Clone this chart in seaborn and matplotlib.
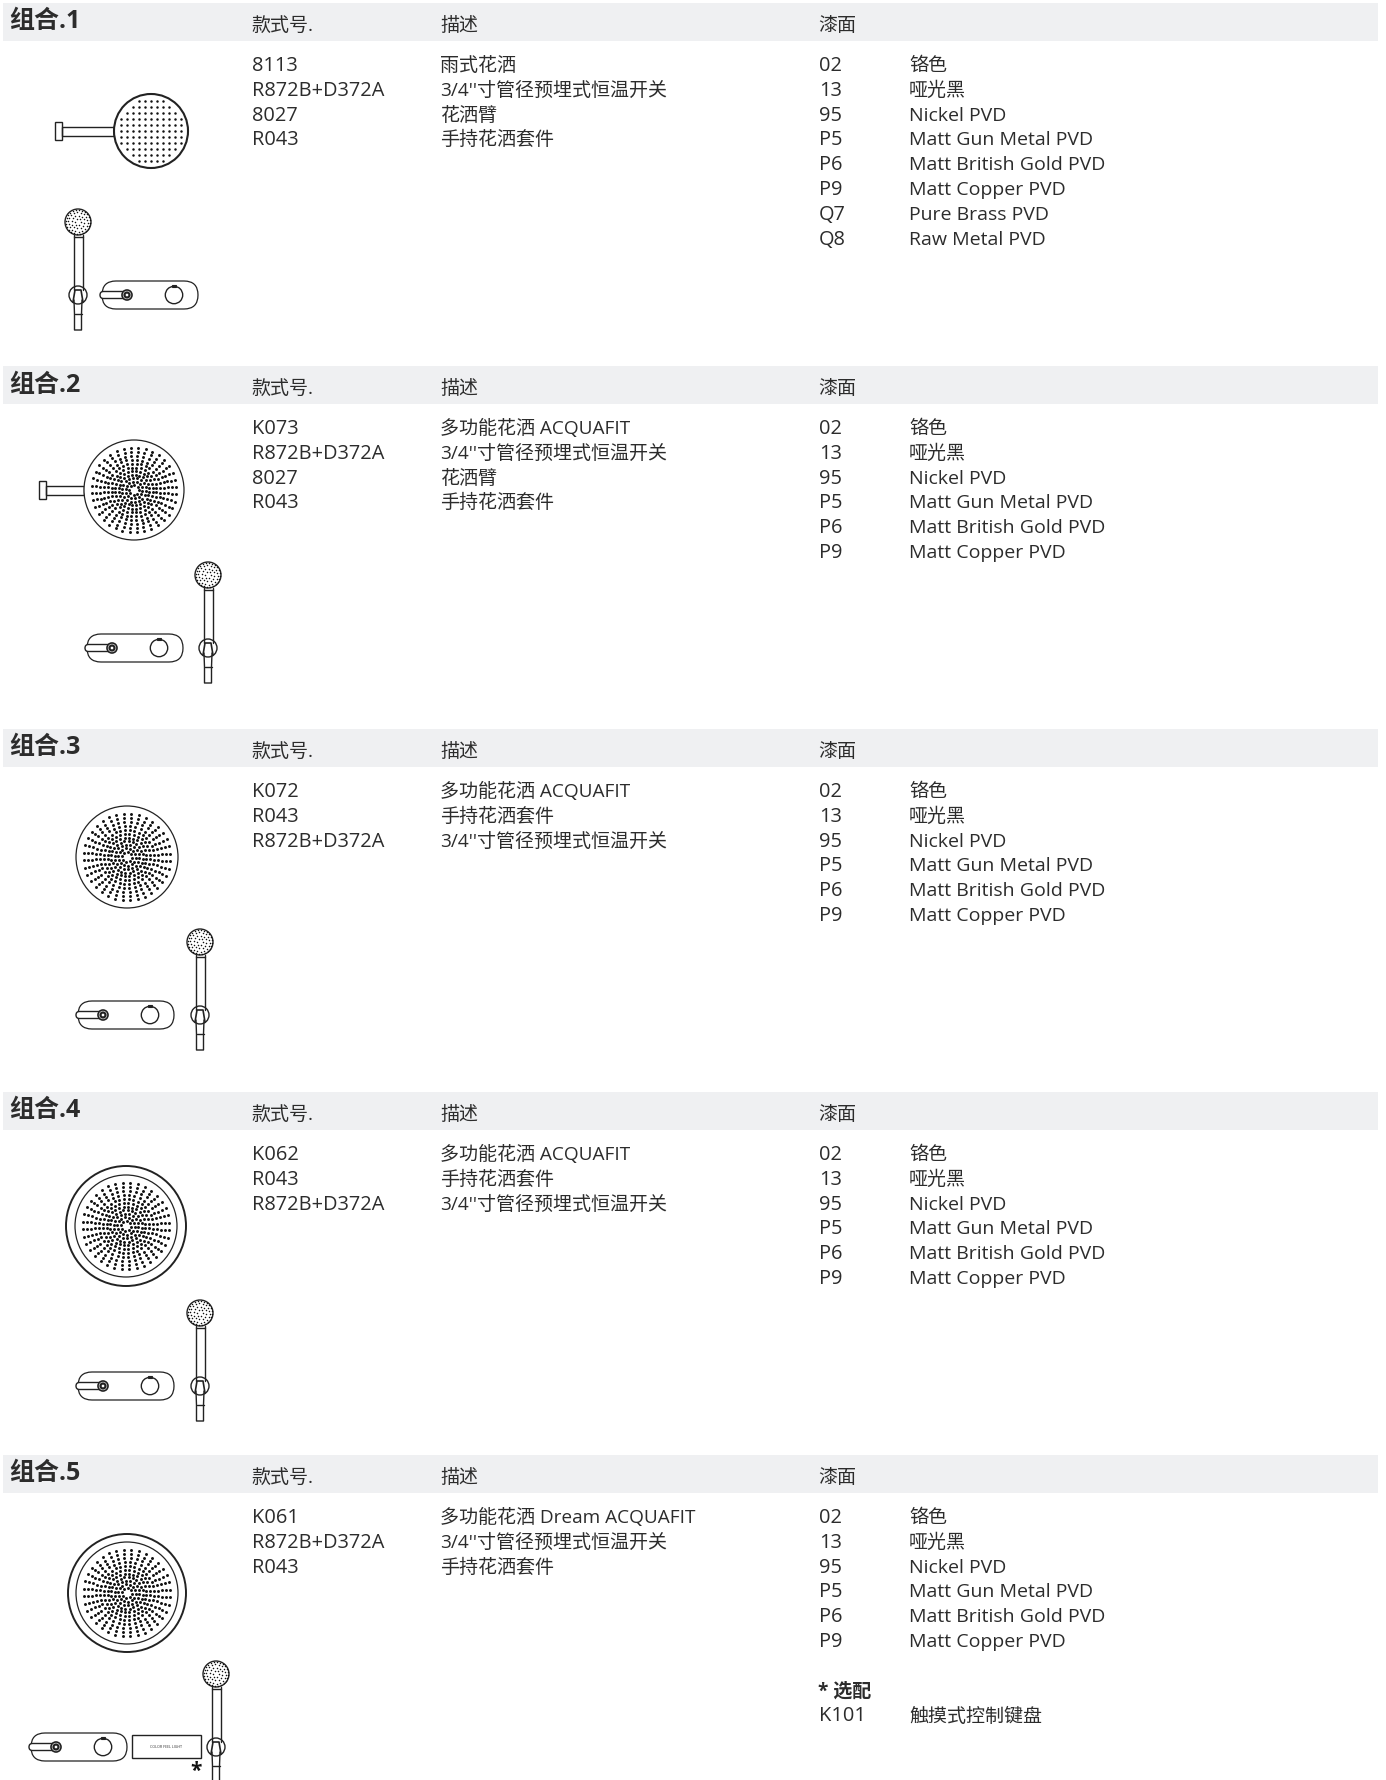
import numpy as np
import pandas as pd
import matplotlib
matplotlib.use('Agg')
import matplotlib.pyplot as plt
from matplotlib.patches import Circle, FancyBboxPatch, Rectangle
import seaborn as sns

sns.set_theme(style='white')
FONT = ['Open Sans', 'Noto Sans CJK SC', 'DejaVu Sans']
plt.rcParams['font.family'] = FONT

# table content
group_titles = ['组合.1', '组合.2', '组合.3', '组合.4', '组合.5']
header_labels = ['款式号.', '描述', '漆面']

codes_1 = ['8113', 'R872B+D372A', '8027', 'R043']
codes_2 = ['K073', 'R872B+D372A', '8027', 'R043']
codes_3 = ['K072', 'R043', 'R872B+D372A']
codes_4 = ['K062', 'R043', 'R872B+D372A']
codes_5 = ['K061', 'R872B+D372A', 'R043']

desc_1 = ['雨式花洒', "3/4''寸管径预埋式恒温开关", '花洒臂', '手持花洒套件']
desc_2 = ['多功能花洒 ACQUAFIT', "3/4''寸管径预埋式恒温开关", '花洒臂', '手持花洒套件']
desc_3 = ['多功能花洒 ACQUAFIT', '手持花洒套件', "3/4''寸管径预埋式恒温开关"]
desc_4 = ['多功能花洒 ACQUAFIT', '手持花洒套件', "3/4''寸管径预埋式恒温开关"]
desc_5 = ['多功能花洒 Dream ACQUAFIT', "3/4''寸管径预埋式恒温开关", '手持花洒套件']

finish_codes = ['02', '13', '95', 'P5', 'P6', 'P9', 'Q7', 'Q8']
finish_names = ['铬色', '哑光黑', 'Nickel PVD', 'Matt Gun Metal PVD', 'Matt British Gold PVD',
                'Matt Copper PVD', 'Pure Brass PVD', 'Raw Metal PVD']
finish_counts = [8, 6, 6, 6, 6]

all_codes = [codes_1, codes_2, codes_3, codes_4, codes_5]
all_desc = [desc_1, desc_2, desc_3, desc_4, desc_5]

# spray heads: centre x, centre y, radius, outer ring radius (0 = none), wall arm length
head_x = [151, 134, 127, 126, 127]
head_y = [132, 491, 858, 1227, 1594]
head_r = [37, 50, 51, 51, 51]
head_outer = [0, 0, 0, 60, 59]
head_arm = [52, 38, 0, 0, 0]

# hand shower head position and valve plate left edge
hand_x = [78, 208, 200, 200, 216]
hand_y = [223, 576, 943, 1314, 1675]
valve_x = [100, 85, 76, 76, 29]

ring_frac = [0.1, 0.17, 0.24, 0.31, 0.38, 0.45, 0.53, 0.61, 0.69, 0.77, 0.85]
ring_count = [8, 14, 18, 24, 28, 32, 36, 36, 36, 36, 36]
hand_frac = [0.25, 0.5, 0.75, 0.92]
hand_count = [6, 12, 18, 24]

TEXT = '#2c2c2c'
LINE = '#222222'
BAND = '#eff0f2'

fig = plt.figure(figsize=(13.86, 17.81), dpi=100)
ax = fig.add_axes([0, 0, 1, 1])
ax.set_xlim(0, 1386)
ax.set_ylim(1781, 0)
ax.axis('off')

STEP = 363
ROW = 24.8


def ring_points(cx, cy, r, fracs, counts):
    xs, ys = [], []
    for f, n in zip(fracs, counts):
        a = np.arange(n) * 2 * np.pi / n + 0.1
        xs.extend(cx + r * f * np.cos(a))
        ys.extend(cy + r * f * np.sin(a))
    return xs, ys


def draw_holes(xs, ys, size):
    df = pd.DataFrame({'x': xs, 'y': ys})
    sns.scatterplot(data=df, x='x', y='y', ax=ax, s=size, color='#111111', linewidth=0, legend=False, zorder=4)
    ax.set_xlabel('')
    ax.set_ylabel('')


def circle(cx, cy, r, lw=1.0, color=LINE):
    ax.add_patch(Circle((cx, cy), r, fill=False, ec=color, lw=lw))


def draw_head(i):
    cx, cy, r = head_x[i], head_y[i], head_r[i]
    if head_arm[i]:
        # wall arm, ends at the rim of the head
        left = cx - r - head_arm[i]
        ax.add_patch(Rectangle((left, cy - 4.5), head_arm[i], 9, fill=False, ec=LINE, lw=1.0))
        ax.add_patch(Rectangle((left - 7, cy - 9), 7, 18, fill=False, ec=LINE, lw=1.0))
    ax.add_patch(Circle((cx, cy), r, fc='white', ec=LINE, lw=1.5 if i == 0 else 0.9, zorder=2))
    if head_outer[i]:
        circle(cx, cy, head_outer[i], lw=1.4)
    if i == 0:
        # first head has a grid of holes split by a cross
        gx, gy = np.meshgrid(np.arange(-5, 6) * 6.0, np.arange(-5, 6) * 6.0)
        keep = gx ** 2 + gy ** 2 < 33 ** 2
        draw_holes(cx + gx[keep], cy + gy[keep], 3.2)
    else:
        xs, ys = ring_points(cx, cy, r, ring_frac, ring_count)
        draw_holes(xs, ys, 4.5)


def draw_hand(i):
    x, y = hand_x[i], hand_y[i]
    ax.add_patch(Circle((x, y), 13, fc='white', ec=LINE, lw=1.0))
    xs, ys = ring_points(x, y, 13, hand_frac, hand_count)
    draw_holes(xs, ys, 1.2)
    # handle
    ax.plot([x - 4.5, x - 4.5], [y + 13, y + 68], color=LINE, lw=1.0)
    ax.plot([x + 4.5, x + 4.5], [y + 13, y + 68], color=LINE, lw=1.0)
    ax.plot([x - 4.5, x + 4.5], [y + 15, y + 15], color=LINE, lw=1.0)
    # holder
    ax.add_patch(Circle((x, y + 73), 9, fill=False, ec=LINE, lw=1.0))
    ax.plot([x - 5, x - 3, x + 3, x + 5], [y + 80, y + 68, y + 68, y + 80], color=LINE, lw=1.2)
    # hose end
    ax.plot([x - 4, x - 3.5, x - 3.5, x + 3.5, x + 3.5, x + 4],
            [y + 78, y + 92, y + 108, y + 108, y + 92, y + 78], color=LINE, lw=1.0)
    ax.plot([x - 3.5, x + 3.5], [y + 92, y + 92], color=LINE, lw=1.0)


def draw_valve(i):
    x0 = valve_x[i]
    y = hand_y[i] + 73
    ax.add_patch(FancyBboxPatch((x0 + 2, y - 14), 96, 28, boxstyle='round,pad=0,rounding_size=14',
                                fc='white', ec=LINE, lw=0.9))
    # lever and ring
    ax.add_patch(FancyBboxPatch((x0, y - 3.5), 27, 7, boxstyle='round,pad=0,rounding_size=3.5',
                                fc='white', ec=LINE, lw=1.0, zorder=3))
    ax.add_patch(Circle((x0 + 27, y), 5, fc='white', ec=LINE, lw=1.2, zorder=3))
    ax.add_patch(Circle((x0 + 27, y), 2.5, fc='white', ec=LINE, lw=1.6, zorder=3))
    # knob
    circle(x0 + 74, y, 8.7, lw=1.0)
    ax.add_patch(Rectangle((x0 + 72, y - 10.5), 4, 2, fill=False, ec=LINE, lw=0.8))


def label(x, y, s, size=None, weight='normal'):
    if size is None:
        size = 14.4 if s.isascii() else 13.7
    # mixed lines sit a little low because of the latin metrics
    if 'ACQUAFIT' in s:
        y -= 1
    ax.text(x, y, s, fontsize=size, fontweight=weight, color=TEXT, ha='left', va='center', family=FONT)


for i in range(5):
    top = 4 + STEP * i
    ax.add_patch(Rectangle((3, top), 1375, 38, fc=BAND, ec='none', zorder=0))
    label(9, top + 18, group_titles[i], size=18, weight='bold')
    label(251, top + 22, header_labels[0])
    label(440, top + 22, header_labels[1])
    label(818, top + 22, header_labels[2])

    for r, (code, desc) in enumerate(zip(all_codes[i], all_desc[i])):
        label(252, top + 62 + r * ROW, code)
        label(440, top + 62 + r * ROW, desc)
    for r in range(finish_counts[i]):
        label(819, top + 62 + r * ROW, finish_codes[r])
        label(909, top + 62 + r * ROW, finish_names[r], size=14.0 if finish_names[r].isascii() else 13.7)

    draw_head(i)
    draw_hand(i)
    draw_valve(i)

# optional keypad in group 5
label(818, 1692, '* 选配', weight='bold')
label(819, 1716.5, 'K101')
label(909, 1716.5, '触摸式控制键盘')
ax.add_patch(Rectangle((132, 1736), 69, 23, fill=False, ec=LINE, lw=1.0))
ax.text(166, 1747.5, 'COLOR FEEL LIGHT', fontsize=2.6, ha='center', va='center', color=TEXT)
ax.text(196, 1771, '*', fontsize=15, fontweight='bold', ha='center', va='center', color='#111111', family=FONT)

fig.savefig('out.png', dpi=100, facecolor='white')
